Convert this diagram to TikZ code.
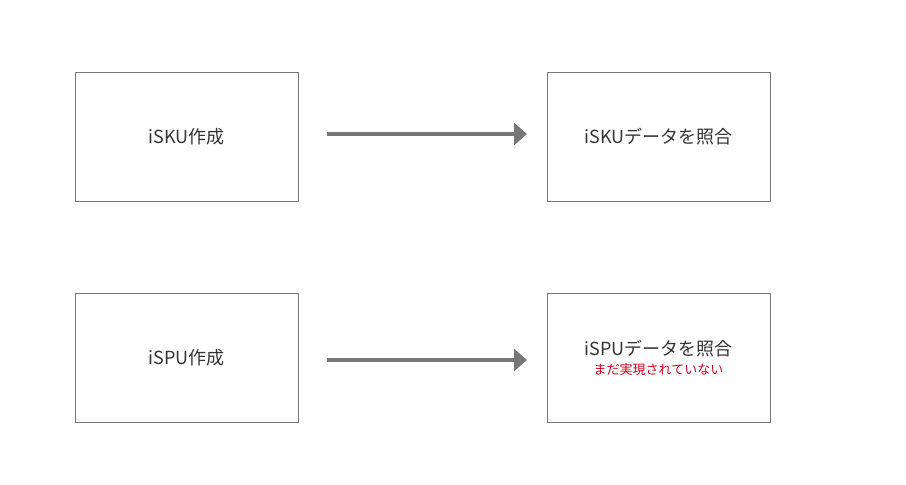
\documentclass[tikz,border=0pt]{standalone}
\usepackage{fontspec}
\setmainfont{Noto Sans CJK JP}
\usepackage{xcolor}
\usepackage{tikz}
\usetikzlibrary{positioning}
\usetikzlibrary{arrows.meta}

\definecolor{linegray}{HTML}{777777}
\definecolor{textgray}{HTML}{333333}
\definecolor{notered}{HTML}{D0021B}

\begin{document}
\begin{tikzpicture}[
    x = 1pt,
    y = -1pt,
    font = \fontsize{18}{22}\selectfont,
    boxf/.style = {
      rectangle,
      draw=linegray,
      line width=0.8pt,
      minimum width=223pt,
      minimum height=129pt,
      text=textgray,
      align=center,
      inner sep=0pt,
      outer sep=0pt
    },
    flowf/.style = {
      draw=linegray,
      line width=4.5pt,
      -{Triangle[length=13pt,width=22pt]},
      shorten <=29pt,
      shorten >=20pt
    },
    notef/.style = {
      text=notered,
      font=\fontsize{13}{15}\selectfont,
      inner sep=0pt
    }
  ]
    \useasboundingbox (0,0) rectangle (906,485);

    \node[boxf] (isku) at (186.5,136.5) {iSKU作成};
    \node[boxf] (iskuchk) [right=249pt of isku] {iSKUデータを照合};
    \node[boxf] (ispu) [below=92pt of isku] {iSPU作成};
    \node[boxf] (ispuchk) [right=249pt of ispu] {};
    \node[text=textgray, inner sep=0pt] (ispulbl) at ([yshift=8.5pt]ispuchk.center) {iSPUデータを照合};
    \node[notef] (ispunote) [below=6pt of ispulbl] {まだ実現されていない};

    \draw[flowf] ([yshift=2.5pt]isku.east) -- ([yshift=2.5pt]iskuchk.west);
    \draw[flowf] ([yshift=-2.5pt]ispu.east) -- ([yshift=-2.5pt]ispuchk.west);

  \end{tikzpicture}
\end{document}
